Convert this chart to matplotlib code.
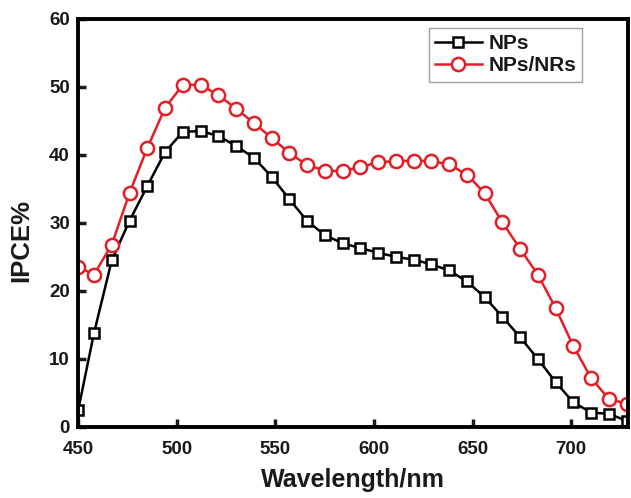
import matplotlib
matplotlib.use("Agg")
import matplotlib.pyplot as plt

plt.rcParams["font.family"] = ["Liberation Sans", "DejaVu Sans"]
plt.rcParams["font.weight"] = "bold"

wavelength = [450, 458, 467, 476, 485, 494, 503, 512, 521, 530, 539, 548,
              557, 566, 575, 584, 593, 602, 611, 620, 629, 638, 647, 656,
              665, 674, 683, 692, 701, 710, 719, 728]
ipce_nps = [2.5, 13.8, 24.5, 30.3, 35.4, 40.4, 43.4, 43.5, 42.8, 41.3, 39.6, 36.8,
            33.5, 30.3, 28.2, 27.0, 26.3, 25.6, 25.0, 24.6, 23.9, 23.0, 21.4, 19.1,
            16.2, 13.2, 10.0, 6.6, 3.6, 2.1, 1.9, 0.9]
ipce_nps_nrs = [23.5, 22.4, 26.8, 34.4, 41.0, 46.9, 50.3, 50.3, 48.8, 46.8, 44.7, 42.5,
                40.3, 38.5, 37.7, 37.6, 38.2, 38.9, 39.1, 39.1, 39.1, 38.6, 37.1, 34.4,
                30.1, 26.2, 22.4, 17.5, 11.9, 7.2, 4.1, 3.4]

fig = plt.figure(figsize=(6.31, 4.98), dpi=100)
ax = fig.add_axes([0.124, 0.143, 0.872, 0.819])

ax.plot(wavelength, ipce_nps, color="black", lw=1.8, marker="s", ms=7.5,
        mfc="white", mec="black", mew=1.8, label="NPs")
ax.plot(wavelength, ipce_nps_nrs, color="#e41e26", lw=1.8, marker="o", ms=9.5,
        mfc="white", mec="#e41e26", mew=1.8, label="NPs/NRs")

ax.set_xlim(450, 729)
ax.set_ylim(0, 60)
ax.set_xticks([450, 500, 550, 600, 650, 700])
ax.set_yticks([0, 10, 20, 30, 40, 50, 60])

for s in ax.spines.values():
    s.set_linewidth(2.8)
ax.tick_params(direction="in", length=6, width=2.5, labelsize=13.5,
               colors="#1a1a1a")
ax.tick_params(axis="x", pad=10)
ax.tick_params(axis="y", pad=6)

ax.set_xlabel("Wavelength/nm", fontsize=18, fontweight="bold", color="#1a1a1a")
ax.set_ylabel("IPCE%", fontsize=18.5, fontweight="bold", color="#1a1a1a")
ax.xaxis.set_label_coords(0.5, -0.102)
ax.yaxis.set_label_coords(-0.082, 0.456)

leg = ax.legend(loc="upper right", bbox_to_anchor=(0.916, 0.978), borderaxespad=0,
                fontsize=15, frameon=True, fancybox=False, edgecolor="#888888",
                handlelength=2.25, handletextpad=0.3, borderpad=0.3,
                labelspacing=0.15)
leg.get_frame().set_linewidth(1.0)
for t in leg.get_texts():
    t.set_color("#1a1a1a")

fig.savefig("out.png", dpi=100)
